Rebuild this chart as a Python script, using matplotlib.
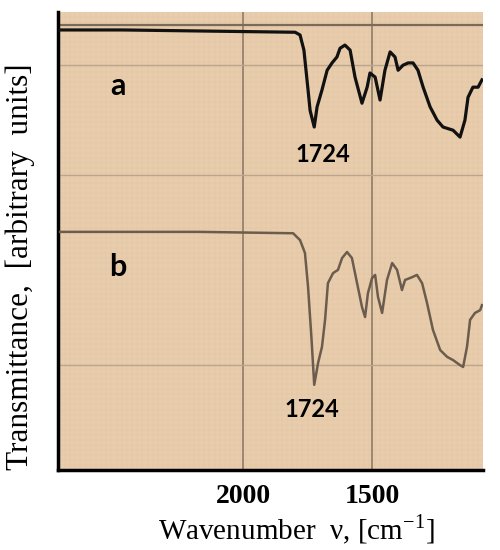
import numpy as np
import matplotlib
matplotlib.use("Agg")
import matplotlib.pyplot as plt

# IR spectra, wavenumber [cm-1] vs transmittance (arbitrary units)
wn_a = [2709, 2465, 1798, 1779, 1764, 1748, 1740, 1724, 1713, 1694, 1674, 1655,
        1636, 1624, 1605, 1585, 1566, 1539, 1519, 1508, 1488, 1469, 1450, 1430,
        1411, 1399, 1380, 1360, 1341, 1322, 1302, 1275, 1248, 1225, 1186, 1159,
        1140, 1128, 1109, 1089, 1074]
tr_a = [96.1, 96.1, 95.6, 95.0, 91.7, 83.0, 78.5, 74.9, 79.3, 83.0, 87.3, 88.9,
        90.2, 92.1, 92.8, 91.7, 85.8, 80.1, 83.6, 86.7, 85.8, 80.8, 87.3, 91.3,
        90.2, 87.3, 88.4, 88.9, 88.9, 87.3, 83.6, 79.3, 76.4, 74.9, 74.2, 72.7,
        76.4, 81.4, 83.6, 83.6, 85.2]

wn_b = [2709, 2167, 1806, 1779, 1760, 1748, 1735, 1724, 1709, 1694, 1682, 1671,
        1651, 1632, 1616, 1597, 1578, 1558, 1539, 1527, 1516, 1500, 1488, 1477,
        1461, 1442, 1422, 1403, 1384, 1372, 1345, 1326, 1306, 1287, 1264, 1236,
        1209, 1186, 1159, 1147, 1132, 1120, 1101, 1081, 1074]
tr_b = [52.0, 52.0, 51.7, 50.2, 47.4, 40.0, 29.0, 18.6, 23.4, 26.9, 32.8, 40.8,
        43.0, 43.7, 46.3, 47.6, 46.3, 40.8, 35.6, 33.4, 38.6, 41.9, 42.6, 37.8,
        34.3, 41.5, 45.2, 43.7, 39.3, 41.5, 42.1, 42.6, 40.8, 36.5, 30.6, 26.2,
        24.7, 24.0, 22.9, 22.5, 26.9, 32.8, 34.3, 34.9, 36.0]

xticks = [2000, 1500]
hlines = [97.2, 88.4, 64.4, 22.9]

paper = "#E8CDAD"
grid_c = "#8f7c68"

plt.rcParams["mathtext.fontset"] = "custom"
plt.rcParams["mathtext.rm"] = "Liberation Serif"

fig = plt.figure(figsize=(5, 5.5), dpi=100)
ax = fig.add_axes([0.116, 0.1455, 0.85, 0.8325])
ax.set_facecolor(paper)

# faint graph-paper texture
for v in np.arange(1070, 2720, 20):
    ax.axvline(v, color="#e0c3a1", lw=0.35, zorder=0)
for h in np.arange(0, 100, 1.1):
    ax.axhline(h, color="#e0c3a1", lw=0.35, zorder=0)

for v in xticks:
    ax.axvline(v, color=grid_c, lw=1.2, zorder=1)
ax.axhline(hlines[0], color="#7a6a5a", lw=1.6, zorder=1)
for h in hlines[1:]:
    ax.axhline(h, color="#bca58c", lw=1.0, zorder=1)

ax.plot(wn_a, tr_a, color="#111111", lw=2.3, zorder=3)
ax.plot(wn_b, tr_b, color="#6b5c4d", lw=1.8, zorder=3)

ax.text(2484, 83.8, "a", family="Lato", weight="bold", fontsize=22,
        ha="center", va="center")
ax.text(2484, 44.3, "b", family="Lato", weight="bold", fontsize=22,
        ha="center", va="center")
ax.text(1690, 68.8, "1724", family="Lato", weight="bold", fontsize=17,
        ha="center", va="center")
ax.text(1733, 13.1, "1724", family="Lato", weight="bold", fontsize=17,
        ha="center", va="center")

ax.set_xlim(2717, 1070)
ax.set_ylim(0, 100)
ax.set_xticks(xticks)
ax.set_xticklabels([str(t) for t in xticks], family="Liberation Serif",
                   weight="bold", fontsize=20)
ax.set_yticks([])
ax.tick_params(axis="x", length=0, pad=10)

for s in ("top", "right"):
    ax.spines[s].set_visible(False)
for s in ("left", "bottom"):
    ax.spines[s].set_linewidth(2.5)
    ax.spines[s].set_color("black")

ax.set_xlabel(r"Wavenumber  ν, [cm$^{\mathrm{-1}}$]", family="Liberation Serif",
              fontsize=21)
ax.xaxis.set_label_coords(0.562, -0.093)
ax.set_ylabel("Transmittance,  [arbitrary  units]", family="Liberation Serif",
              fontsize=22.5)
ax.yaxis.set_label_coords(-0.055, 0.445)

fig.savefig("out.png", dpi=100)
